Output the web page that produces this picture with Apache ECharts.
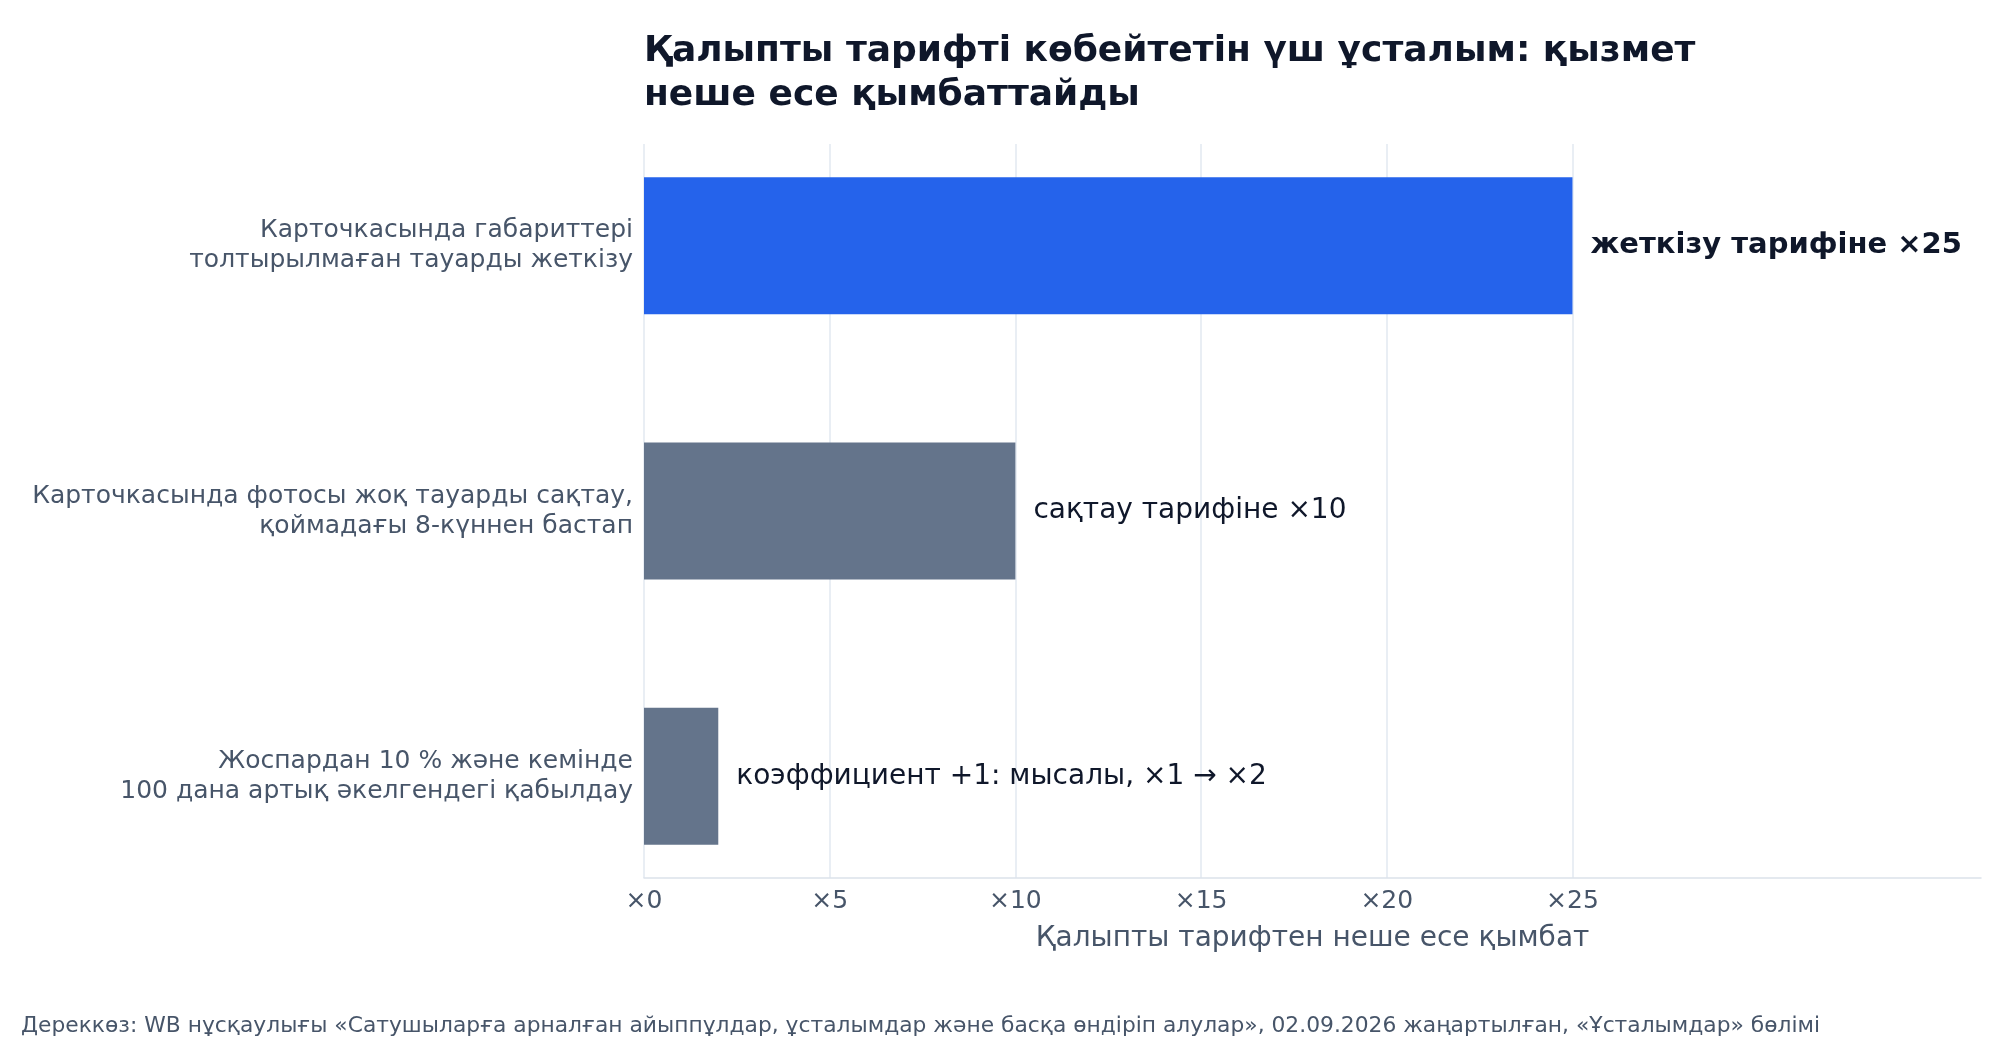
<!DOCTYPE html>
<html><head><meta charset="utf-8">
<script src="https://cdn.jsdelivr.net/npm/echarts@6/dist/echarts.min.js"></script>
<style>html,body{margin:0;padding:0;background:#fff}#c{width:2000px;height:1040px}</style>
</head><body><div id="c"></div>
<script>
const categories = [
  'Карточкасында габариттері\nтолтырылмаған тауарды жеткізу',
  'Карточкасында фотосы жоқ тауарды сақтау,\nқоймадағы 8-күннен бастап',
  'Жоспардан 10 % және кемінде\n100 дана артық әкелгендегі қабылдау'
];
const values = [25, 10, 2];
const valueLabels = ['жеткізу тарифіне ×25', 'сақтау тарифіне ×10', 'коэффициент +1: мысалы, ×1 → ×2'];
const highlight = [true, false, false];
const axisMax = 36;
const tickStep = 5;
const lastTick = 25;

const FONT = 'DejaVu Sans';
const chart = echarts.init(document.getElementById('c'), null, {renderer: 'canvas'});
const grid = '#e2e8f0';
const none = 'rgba(0,0,0,0)';
const splitColors = [];
for (let v = 0; v <= axisMax + tickStep; v += tickStep) splitColors.push(v <= lastTick ? grid : none);
splitColors.push(none);

chart.setOption({
  animation: false,
  backgroundColor: '#ffffff',
  textStyle: {fontFamily: FONT},
  title: [{
    text: 'Қалыпты тарифті көбейтетін үш ұсталым: қызмет\nнеше есе қымбаттайды',
    left: 644, top: 30, padding: 0,
    textStyle: {fontFamily: FONT, fontSize: 36, fontWeight: 'bold', color: '#0f172a', lineHeight: 44}
  }, {
    text: 'Дереккөз: WB нұсқаулығы «Сатушыларға арналған айыппұлдар, ұсталымдар және басқа өндіріп алулар», 02.09.2026 жаңартылған, «Ұсталымдар» бөлімі',
    left: 21, top: 1015, padding: 0,
    textStyle: {fontFamily: FONT, fontSize: 21.8, fontWeight: 'normal', color: '#475569'}
  }],
  grid: [
    {left: 644, right: 19, top: 144, bottom: 162, containLabel: false},
    {left: 644, right: 19, top: 113, bottom: 131, containLabel: false}
  ],
  xAxis: [{
    gridIndex: 0, type: 'value', min: 0, max: axisMax, interval: tickStep,
    axisLine: {show: true, lineStyle: {color: '#dbe2ea', width: 1.5}},
    axisTick: {show: false},
    splitLine: {show: true, lineStyle: {color: splitColors, width: 1.5}},
    axisLabel: {
      color: '#475569', fontSize: 25, margin: 11, fontFamily: FONT,
      formatter: v => (v <= lastTick && v % tickStep === 0) ? '×' + v : ''
    },
    name: 'Қалыпты тарифтен неше есе қымбат',
    nameLocation: 'middle', nameGap: 47,
    nameTextStyle: {color: '#475569', fontSize: 28, fontFamily: FONT}
  }, {
    gridIndex: 1, type: 'value', min: 0, max: axisMax, show: false
  }],
  yAxis: [{
    gridIndex: 0, type: 'value', min: 0, max: 1, show: false
  }, {
    gridIndex: 1, type: 'category', inverse: true, data: categories,
    axisLine: {show: false}, axisTick: {show: false}, splitLine: {show: false},
    axisLabel: {color: '#475569', fontSize: 25, lineHeight: 30, margin: 11, fontFamily: FONT, align: 'right'}
  }],
  series: [{
    type: 'bar', xAxisIndex: 1, yAxisIndex: 1, barWidth: 137, z: 5,
    data: values.map((v, i) => ({
      value: v,
      itemStyle: {color: highlight[i] ? '#2563eb' : '#64748b'},
      label: {
        show: true, position: 'right', distance: 18,
        formatter: valueLabels[i],
        color: '#0f172a', fontSize: highlight[i] ? 29 : 28, fontFamily: FONT,
        fontWeight: highlight[i] ? 'bold' : 'normal'
      }
    }))
  }]
});
</script></body></html>
